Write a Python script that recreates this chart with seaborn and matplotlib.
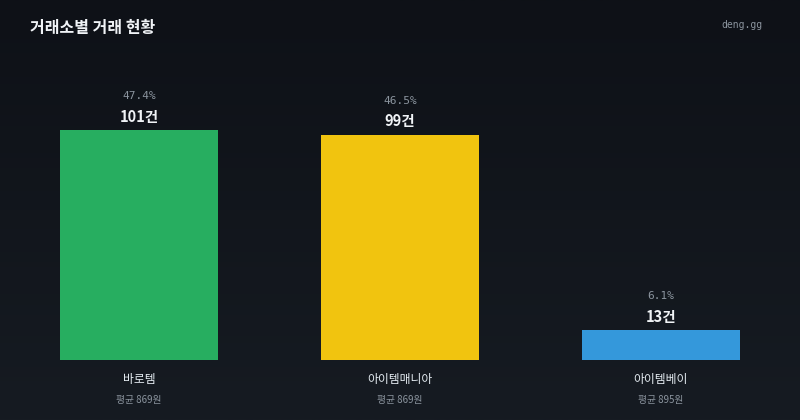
import numpy as np
import pandas as pd
import matplotlib
matplotlib.use('Agg')
import matplotlib.pyplot as plt
import seaborn as sns

# Data
exchanges = ['바로템', '아이템매니아', '아이템베이']
counts = [101, 99, 13]
shares = [47.4, 46.5, 6.1]
avg_prices = [869, 869, 895]
colors = ['#27ae60', '#f1c40f', '#3498db']

df = pd.DataFrame({'exchange': exchanges, 'count': counts})

sns.set_theme(style='dark')
plt.rcParams['font.family'] = ['Noto Sans CJK KR', 'DejaVu Sans']

fig = plt.figure(figsize=(8, 4.2), dpi=100)

# Background gradient
bg = fig.add_axes([0, 0, 1, 1], zorder=-1)
grad = np.linspace(0, 1, 256).reshape(-1, 1)
cmap = matplotlib.colors.LinearSegmentedColormap.from_list('bg', ['#0e1117', '#161b22'])
bg.imshow(grad, aspect='auto', cmap=cmap, extent=[0, 1, 0, 1], origin='upper')
bg.axis('off')

ax = fig.add_axes([0, 60 / 420, 1, 320 / 420])
ax.patch.set_alpha(0)
sns.barplot(data=df, x='exchange', y='count', hue='exchange', palette=colors,
            width=0.605, saturation=1, legend=False, linewidth=0, ax=ax)
ax.set_xlim(-0.533, 2.533)
ax.set_ylim(0, 101 * 320 / 230)
ax.axis('off')

for i, (c, s, p, name) in enumerate(zip(counts, shares, avg_prices, exchanges)):
    ax.annotate(f'{c}건', xy=(i, c), xytext=(0, 9.4), textcoords='offset points',
                ha='center', va='center', fontsize=10.5, fontweight='bold', color='#f0f3f6')
    ax.annotate(f'{s}%', xy=(i, c), xytext=(0, 24.5), textcoords='offset points',
                ha='center', va='center', fontsize=8, color='#8b949e', family='DejaVu Sans Mono')
    ax.annotate(name, xy=(i, 0), xytext=(0, -14.4), textcoords='offset points',
                ha='center', va='center', fontsize=8.5, color='#e6edf3')
    ax.annotate(f'평균 {p}원', xy=(i, 0), xytext=(0, -28.8), textcoords='offset points',
                ha='center', va='center', fontsize=7, color='#8b949e')

fig.text(30 / 800, 1 - 28 / 420, '거래소별 거래 현황', ha='left', va='center',
         fontsize=11.5, fontweight='bold', color='#f0f3f6')
fig.text(762 / 800, 1 - 25 / 420, 'deng.gg', ha='right', va='center',
         fontsize=7, color='#8b949e', family='DejaVu Sans Mono')

fig.savefig('out.png', dpi=100)
